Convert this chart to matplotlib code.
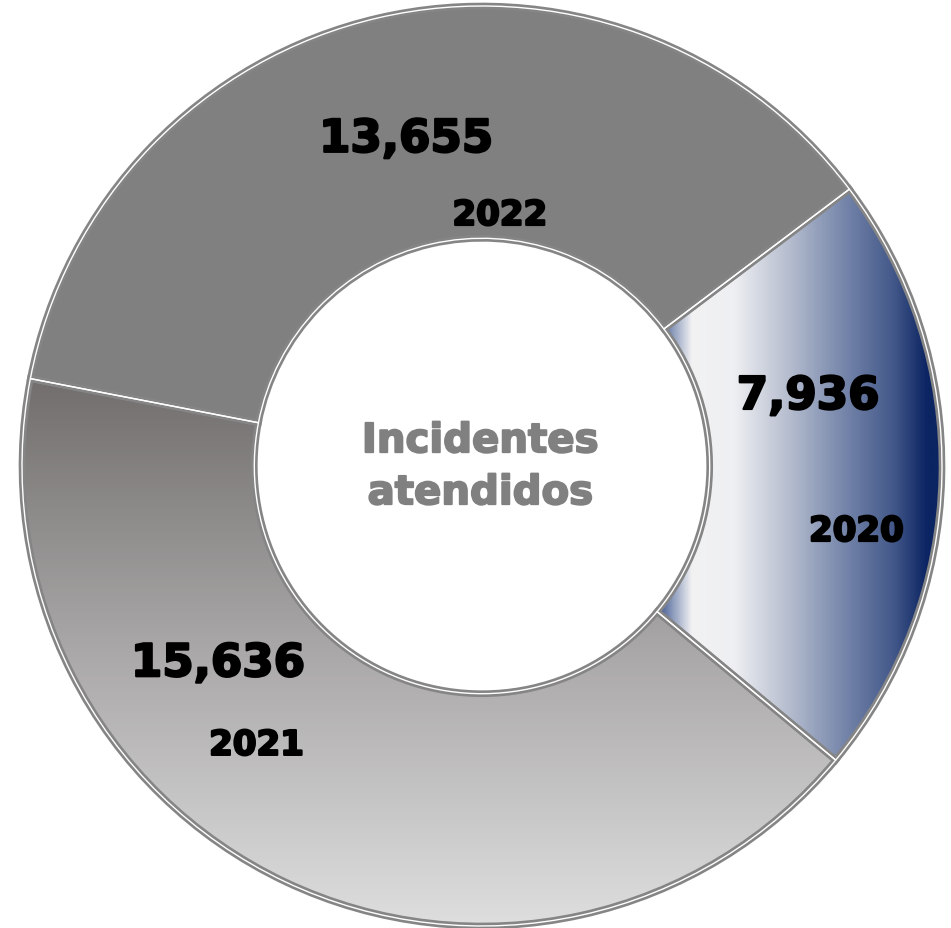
import matplotlib.pyplot as plt
import matplotlib.patheffects as pe
import numpy as np
from matplotlib.colors import LinearSegmentedColormap
from matplotlib.patches import Wedge

years = ["2020", "2021", "2022"]
incidents = [7936, 15636, 13655]
value_labels = ["7,936", "15,636", "13,655"]
center_title = ["Incidentes", "atendidos"]

# label anchors (x centre, baseline) in axes data units, per slice
value_pos = [(0.709, 0.124), (-0.574, -0.457), (-0.165, 0.683)]
year_pos = [(0.814, -0.163), (-0.490, -0.628), (0.039, 0.524)]

fig = plt.figure(figsize=(9.51, 9.29), dpi=100)
ax = fig.add_axes([0, 0, 1, 1])

ring = 0.505
wedges, _ = ax.pie(incidents, startangle=37.0, counterclock=False, radius=1.0,
                   colors=["#c8cfdd", "#a0a0a0", "#808080"],
                   wedgeprops=dict(width=ring, edgecolor="none", linewidth=0))

# 2020: horizontal white -> navy gradient
w = wedges[0]
r_in = w.r - w.width
c1, c2 = np.cos(np.radians(w.theta1)), np.cos(np.radians(w.theta2))
x0 = r_in * min(c1, c2)
y0 = w.r * np.sin(np.radians(w.theta1))
y1 = w.r * np.sin(np.radians(w.theta2))
blue = LinearSegmentedColormap.from_list("blu", [
    (0.0, "#3b5590"), (0.12, "#f2f2f3"), (0.27, "#eeeff2"), (0.47, "#b3bbcd"),
    (0.66, "#7585aa"), (0.83, "#44598a"), (0.95, "#0b2462"), (1.0, "#0b2462")])
grad = np.linspace(0, 1, 400).reshape(1, -1)
im = ax.imshow(grad, extent=[x0, w.r, min(y0, y1), max(y0, y1)], cmap=blue,
               aspect="auto", interpolation="bilinear", zorder=2)
im.set_clip_path(w)

# 2021: vertical dark -> light gray gradient
w = wedges[1]
gray = LinearSegmentedColormap.from_list("gry", [
    (0.0, "#dedede"), (0.5, "#aaa8a8"), (1.0, "#726e6e")])
gv = np.linspace(0, 1, 400).reshape(-1, 1)
im2 = ax.imshow(gv, extent=[-1, 1, -1, np.sin(np.radians(w.theta1))], cmap=gray,
                origin="lower", aspect="auto", interpolation="bilinear", zorder=2)
im2.set_clip_path(w)

# bevel-like borders: gray with a thin white line inside
for w in wedges:
    ax.add_patch(Wedge(w.center, w.r, w.theta1, w.theta2, width=w.width,
                       fill=False, edgecolor="#858585", linewidth=4.8, zorder=3))
    ax.add_patch(Wedge(w.center, w.r, w.theta1, w.theta2, width=w.width,
                       fill=False, edgecolor="white", linewidth=1.0, zorder=4))

heavy = [pe.withStroke(linewidth=1.6, foreground="black")]
for lab, (x, y) in zip(value_labels, value_pos):
    ax.text(x, y, lab, ha="center", va="baseline", fontsize=32.5,
            fontweight="bold", color="black", zorder=5, path_effects=heavy)
for lab, (x, y) in zip(years, year_pos):
    ax.text(x, y, lab, ha="center", va="baseline", fontsize=24.5,
            fontweight="bold", color="black", zorder=5, path_effects=heavy)

heavy_g = [pe.withStroke(linewidth=1.4, foreground="#808080")]
ax.text(-0.004, 0.030, center_title[0], ha="center", va="baseline",
        fontsize=29, fontweight="bold", color="#808080", zorder=5,
        path_effects=heavy_g)
ax.text(-0.004, -0.083, center_title[1], ha="center", va="baseline",
        fontsize=29, fontweight="bold", color="#808080", zorder=5,
        path_effects=heavy_g)

ax.set_xlim(-482 / 460, (951 - 482) / 460)
ax.set_ylim(-462 / 460, 467 / 460)
ax.set_aspect("auto")
ax.axis("off")

fig.savefig("out.png", dpi=100, facecolor="white")
